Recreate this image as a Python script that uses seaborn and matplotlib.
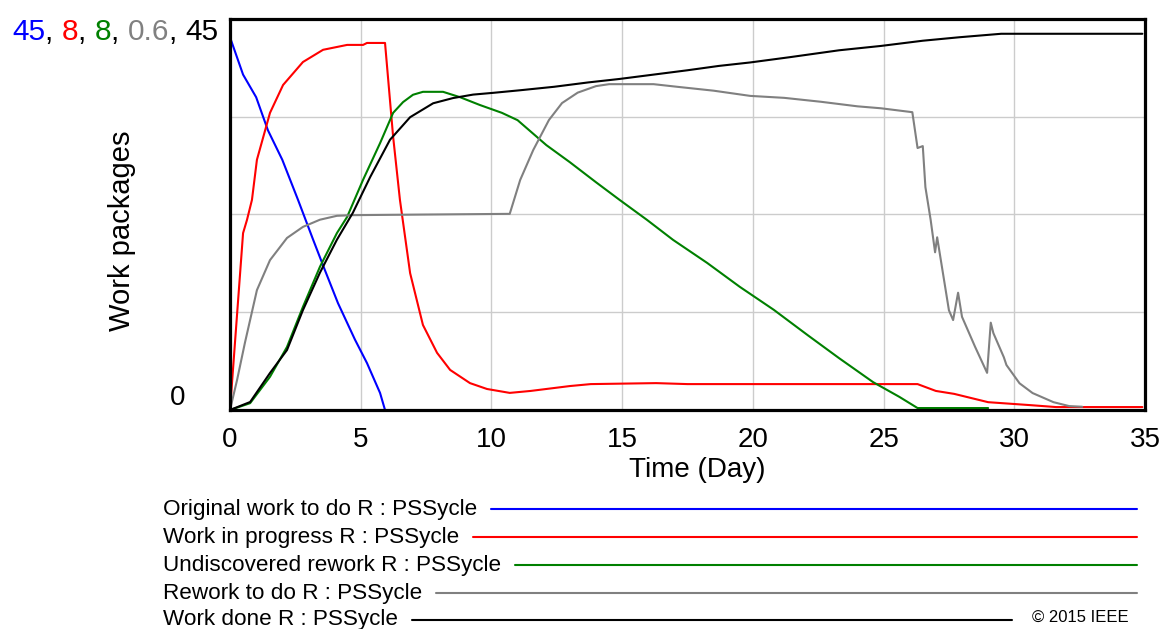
import matplotlib
matplotlib.use("Agg")
import matplotlib.pyplot as plt
import seaborn as sns
import numpy as np
import pandas as pd
from matplotlib.lines import Line2D

# ---------------- data ----------------
blue_t = [0, 0.5, 1.0, 1.45, 2.0, 2.6, 3.18, 3.63, 4.13, 4.78, 5.24, 5.74, 5.93]
blue_v = [42.9, 38.6, 36.0, 32.2, 28.8, 24.2, 19.6, 16.1, 12.3, 8.1, 5.4, 1.96, 0]

red_t = [0, 0.5, 0.65, 0.84, 1.03, 1.53, 2.03, 2.79, 3.56, 4.48, 5.09, 5.24, 5.93,
         6.24, 6.5, 6.89, 7.38, 7.92, 8.42, 9.18, 9.83, 10.7, 11.5, 13.0, 13.8,
         16.3, 17.5, 26.3, 27.0, 27.7, 29.0, 30.6, 31.6, 34.9]
red_v = [0, 3.62, 3.89, 4.30, 5.12, 6.08, 6.65, 7.12, 7.37, 7.47, 7.47, 7.51, 7.51,
         5.59, 4.30, 2.80, 1.74, 1.17, 0.82, 0.55, 0.43, 0.35, 0.39, 0.49, 0.53,
         0.55, 0.53, 0.53, 0.39, 0.33, 0.16, 0.10, 0.06, 0.06]

green_t = [0, 0.77, 1.53, 2.18, 2.79, 3.44, 4.09, 4.48, 5.09, 5.74, 6.24, 6.62, 7.0,
           7.38, 8.15, 8.8, 9.56, 10.4, 11.0, 12.1, 13.0, 14.0, 14.9, 15.95, 16.95,
           18.25, 19.5, 20.8, 22.1, 23.3, 24.6, 25.6, 26.3, 29.0]
green_v = [0, 0.14, 0.68, 1.29, 2.11, 2.93, 3.62, 3.95, 4.71, 5.46, 6.08, 6.30, 6.45,
           6.51, 6.51, 6.40, 6.24, 6.08, 5.93, 5.42, 5.07, 4.66, 4.30, 3.89, 3.48,
           3.01, 2.52, 2.05, 1.53, 1.06, 0.57, 0.27, 0.04, 0.04]

gray_t = [0, 0.27, 0.57, 1.03, 1.53, 2.18, 2.79, 3.44, 4.09, 4.7, 10.7, 11.1, 11.6,
          12.2, 12.7, 13.3, 14.0, 14.5, 16.2, 17.1, 18.5, 19.9, 21.2, 22.6, 24.0,
          24.9, 26.1, 26.3, 26.5, 26.6, 26.8, 26.97, 27.05, 27.5, 27.66, 27.85, 28.0,
          28.5, 28.96, 29.1, 29.2, 29.6, 29.7, 30.2, 30.7, 31.5, 32.1, 32.6]
gray_v = [0, 0.046, 0.103, 0.184, 0.230, 0.264, 0.281, 0.292, 0.298, 0.299, 0.301,
          0.353, 0.399, 0.445, 0.471, 0.487, 0.497, 0.500, 0.500, 0.496, 0.490, 0.482,
          0.479, 0.473, 0.466, 0.463, 0.457, 0.402, 0.405, 0.342, 0.292, 0.242, 0.265,
          0.153, 0.138, 0.180, 0.143, 0.097, 0.057, 0.134, 0.118, 0.081, 0.069, 0.041,
          0.026, 0.012, 0.006, 0.005]

black_t = [0, 0.77, 1.53, 2.18, 2.79, 3.44, 4.09, 4.7, 5.36, 6.12, 6.89, 7.77, 8.53,
           9.3, 10.06, 11.1, 12.4, 13.7, 14.9, 16.2, 17.5, 18.7, 19.9, 21.4, 23.3,
           24.9, 26.5, 27.9, 29.5, 34.9]
black_v = [0, 0.92, 4.26, 6.9, 11.5, 15.8, 19.6, 22.7, 26.8, 31.1, 33.7, 35.3, 35.9,
           36.3, 36.5, 36.8, 37.2, 37.7, 38.1, 38.6, 39.1, 39.6, 40.0, 40.6, 41.4,
           41.9, 42.5, 42.9, 43.3, 43.3]

series_names = ["Original work to do R : PSSycle", "Work in progress R : PSSycle",
                "Undiscovered rework R : PSSycle", "Rework to do R : PSSycle",
                "Work done R : PSSycle"]
scale_max = [45, 8, 8, 0.6, 45]
scale_labels = ["45", "8", "8", "0.6", "45"]
colors = ["#0000ff", "#ff0000", "#008000", "#808080", "#000000"]
x_ticks = [0, 5, 10, 15, 20, 25, 30, 35]

# ---------------- figure ----------------
sns.set_style("white")
plt.rcParams["font.family"] = ["Liberation Sans", "DejaVu Sans"]
plt.rcParams["text.color"] = "black"
plt.rcParams["xtick.color"] = "black"
plt.rcParams["axes.labelcolor"] = "black"

W, H = 1163, 629
fig = plt.figure(figsize=(W / 100, H / 100), dpi=100)
L, R, T, B = 230, 1145, 19, 410
ax = fig.add_axes([L / W, 1 - B / H, (R - L) / W, (B - T) / H])

all_t = [blue_t, red_t, green_t, gray_t, black_t]
all_v = [blue_v, red_v, green_v, gray_v, black_v]

axes = [ax] + [ax.twinx() for _ in range(4)]
for i, a in enumerate(axes):
    df = pd.DataFrame({"t": all_t[i], "v": all_v[i]})
    sns.lineplot(data=df, x="t", y="v", ax=a, color=colors[i], lw=1.5,
                 estimator=None, sort=False)
    a.set_xlim(0, 35)
    a.set_ylim(0, scale_max[i])
    a.set_xlabel("")
    a.set_ylabel("")
    if i > 0:
        a.set_yticks([])
        for s in a.spines.values():
            s.set_visible(False)

# grid on main axis
ax.set_yticks(np.linspace(0, scale_max[0], 5))
ax.set_yticklabels([])
ax.tick_params(axis="y", length=0)
ax.set_xticks(x_ticks)
ax.set_xticklabels([str(v) for v in x_ticks], fontsize=20, color="black")
ax.tick_params(axis="x", length=0, pad=12)
ax.grid(True, color="#cccccc", lw=1.0)
ax.set_axisbelow(True)

# thick frame on the top-most axis
top = axes[-1]
for s in top.spines.values():
    s.set_visible(True)
    s.set_color("black")
    s.set_linewidth(2.3)
for s in ax.spines.values():
    s.set_visible(False)

fig.text(697 / W, 1 - 470 / H, "Time (Day)", fontsize=20, ha="center", va="center")
fig.text(122 / W, 1 - 231 / H, "Work packages", fontsize=21, rotation=90,
         ha="center", va="center")
fig.text(178 / W, 1 - 398 / H, "0", fontsize=20, ha="center", va="center")

# coloured scale label at top
fig.canvas.draw()
rend = fig.canvas.get_renderer()
x = 12
base_y = 1 - 40 / H
pieces = []
for i, lab in enumerate(scale_labels):
    pieces.append((lab, colors[i]))
    if i < len(scale_labels) - 1:
        pieces.append((", ", "black"))
for txt, c in pieces:
    t = fig.text(x / W, base_y, txt, fontsize=21.5, color=c, ha="left",
                 va="baseline")
    bb = t.get_window_extent(renderer=rend)
    x = x + bb.width

# legend rows
row_y = [509, 537, 565, 593, 620]
line_end = [1137, 1137, 1137, 1137, 1012]
for i, name in enumerate(series_names):
    t = fig.text(163 / W, 1 - row_y[i] / H, name, fontsize=16.2, ha="left",
                 va="center")
    bb = t.get_window_extent(renderer=rend)
    x0 = bb.x1 + 14
    fig.add_artist(Line2D([x0 / W, line_end[i] / W],
                          [1 - (row_y[i]) / H, 1 - (row_y[i]) / H],
                          color=colors[i], lw=1.5, transform=fig.transFigure))

fig.text(1080 / W, 1 - 617 / H, "\u00a9 2015 IEEE", fontsize=12, ha="center",
         va="center")

fig.savefig("out.png", dpi=100)
